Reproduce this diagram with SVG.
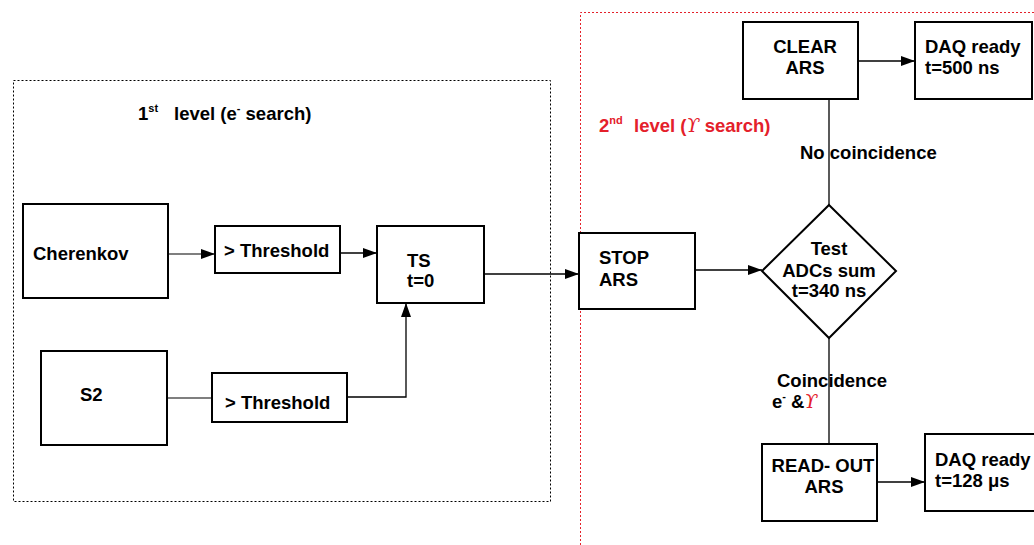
<svg xmlns="http://www.w3.org/2000/svg" width="1034" height="545" viewBox="0 0 1034 545">
<defs>
<marker id="ah" markerUnits="userSpaceOnUse" markerWidth="15" markerHeight="11" refX="14" refY="5" orient="auto">
<path d="M0,0 L14,5 L0,10 z" fill="#000"/>
</marker>
<style>
.box{fill:#fff;stroke:#000;stroke-width:2}
.t{font-family:"Liberation Sans",Arial,sans-serif;font-weight:bold;font-size:18.5px;fill:#000}
.c{text-anchor:middle}
.sup{font-size:11px}
.red{fill:#e4202a}
.ups{font-family:"DejaVu Serif","Liberation Serif",serif;font-style:italic;font-weight:normal;font-size:19px}
.ln{fill:none;stroke:#000;stroke-width:1.3}
.lg{fill:none;stroke:#555;stroke-width:1.5}
</style>
</defs>
<rect width="1034" height="545" fill="#fff"/>
<g id="level1">
<rect x="13.5" y="80.5" width="537" height="421" fill="none" stroke="#000" stroke-width="1" stroke-dasharray="2,2"/>
<text class="t" x="138" y="120">1<tspan class="sup" dy="-8">st</tspan><tspan dy="8" x="174">level (e</tspan><tspan class="sup" dy="-8">-</tspan><tspan dy="8"> search)</tspan></text>
</g>
<g id="level2">
<path d="M580.5,545 V12.5 H1034" fill="none" stroke="#e4202a" stroke-width="1" stroke-dasharray="2,2"/>
<text class="t red" x="599" y="132">2<tspan class="sup" dy="-8">nd</tspan><tspan dy="8" x="634">level (</tspan><tspan class="ups">ϒ</tspan><tspan> search)</tspan></text>
</g>
<g id="connectors">
<line class="lg" x1="168" y1="254" x2="215" y2="254" marker-end="url(#ah)"/>
<line class="ln" x1="340" y1="253" x2="377" y2="253" marker-end="url(#ah)"/>
<line class="lg" x1="167" y1="398" x2="212" y2="398"/>
<polyline class="ln" points="347,397 406,397 406,303" marker-end="url(#ah)"/>
<line class="ln" x1="484" y1="274" x2="579" y2="274" marker-end="url(#ah)"/>
<line class="ln" x1="695" y1="270" x2="762" y2="270" marker-end="url(#ah)"/>
<line class="ln" x1="829" y1="205" x2="829" y2="99"/>
<line class="ln" x1="858" y1="61" x2="915" y2="61" marker-end="url(#ah)"/>
<line class="ln" x1="829" y1="338" x2="829" y2="444"/>
<line class="ln" x1="877" y1="482" x2="925" y2="482" marker-end="url(#ah)"/>
<text class="t" x="800" y="159">No coincidence</text>
<text class="t" x="777" y="387">Coincidence</text>
<text class="t" x="772" y="408">e<tspan class="sup" dy="-8">-</tspan><tspan dy="8"> &amp;</tspan><tspan class="ups red">ϒ</tspan></text>
</g>
<g id="cherenkov">
<rect class="box" x="23" y="204" width="145" height="94"/>
<text class="t" x="33" y="260">Cherenkov</text>
</g>
<g id="threshold1">
<rect class="box" x="215" y="226" width="125" height="47"/>
<text class="t" x="224" y="257">&gt; Threshold</text>
</g>
<g id="s2">
<rect class="box" x="41" y="351" width="126" height="94"/>
<text class="t" x="80" y="401">S2</text>
</g>
<g id="threshold2">
<rect class="box" x="212" y="373" width="135" height="49"/>
<text class="t" x="225" y="409">&gt; Threshold</text>
</g>
<g id="ts">
<rect class="box" x="377" y="226" width="107" height="77"/>
<text class="t" x="407" y="267">TS</text>
<text class="t" x="407" y="287">t=0</text>
</g>
<g id="stop">
<rect class="box" x="579" y="233" width="116" height="76"/>
<text class="t" x="599" y="264">STOP</text>
<text class="t" x="599" y="286">ARS</text>
</g>
<g id="test">
<polygon points="829,205 896,271 829,338 762,271" fill="#fff" stroke="#000" stroke-width="2"/>
<text class="t c" x="829" y="255">Test</text>
<text class="t c" x="829" y="277">ADCs sum</text>
<text class="t c" x="829" y="297">t=340 ns</text>
</g>
<g id="clear">
<rect class="box" x="743" y="22" width="115" height="77"/>
<text class="t c" x="805" y="53">CLEAR</text>
<text class="t c" x="805" y="74">ARS</text>
</g>
<g id="daq500">
<rect class="box" x="915" y="22" width="117" height="77"/>
<text class="t" x="925" y="53">DAQ ready</text>
<text class="t" x="925" y="74">t=500 ns</text>
</g>
<g id="readout">
<rect class="box" x="762" y="444" width="115" height="77"/>
<text class="t c" x="823" y="472">READ- OUT</text>
<text class="t c" x="824" y="493">ARS</text>
</g>
<g id="daq128">
<rect class="box" x="925" y="434" width="112" height="77"/>
<text class="t" x="935" y="466">DAQ ready</text>
<text class="t" x="935" y="487">t=128 μs</text>
</g>
</svg>
